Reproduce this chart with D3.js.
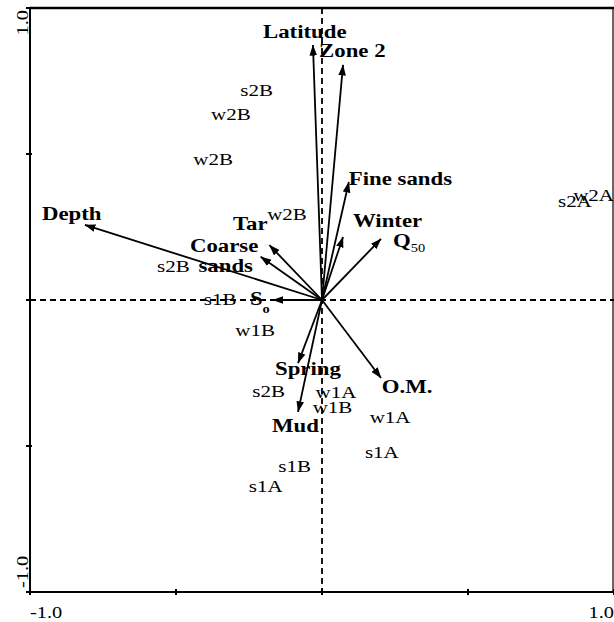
<!DOCTYPE html>
<html>
<head>
<meta charset="utf-8">
<script src="https://cdn.jsdelivr.net/npm/d3@7"></script>
<style>
  html, body { margin: 0; padding: 0; background: #fff; }
  svg { display: block; }
  text { font-family: "Liberation Serif", "Times New Roman", serif; fill: #000; }
</style>
</head>
<body>
<svg id="chart" width="614" height="622"></svg>
<script>
// ---- data ----
const axisTicks = [-1, -0.5, 0, 0.5, 1];
const tickLabels = ["-1.0", "1.0"];

// environmental variable arrows (tip coordinates)
const varNames = ["Latitude", "Zone 2", "Fine sands", "Winter", "Q50", "Depth", "Tar", "Coarse sands", "So", "Spring", "Mud", "O.M."];
const varX = [-0.031, 0.072, 0.092, 0.072, 0.202, -0.812, -0.180, -0.210, -0.168, -0.082, -0.082, 0.202];
const varY = [0.873, 0.805, 0.404, 0.216, 0.209, 0.257, 0.188, 0.148, 0.000, -0.216, -0.383, -0.267];
// label anchor positions (start, baseline) for each variable
const varLabelX = [-0.202, -0.010, 0.092, 0.106, 0.243, -0.959, -0.305, -0.452, -0.247, -0.161, -0.171, 0.205];
const varLabelY = [0.897, 0.832, 0.394, 0.250, 0.182, 0.274, 0.240, 0.164, -0.017, -0.257, -0.452, -0.318];

// samples (site scores)
const sampleNames = ["s2B", "w2B", "w2B", "w2B", "s2B", "s1B", "w1B", "s2B", "w1A", "w1B", "w1A", "s1A", "s1B", "s1A", "s2A", "w2A"];
const sampleX = [-0.224, -0.312, -0.373, -0.120, -0.509, -0.349, -0.229, -0.183, 0.048, 0.036, 0.233, 0.205, -0.094, -0.193, 0.866, 0.930];
const sampleY = [0.719, 0.637, 0.483, 0.295, 0.116, 0.003, -0.103, -0.312, -0.315, -0.366, -0.401, -0.521, -0.568, -0.637, 0.339, 0.360];

// ---- chart ----
const svg = d3.select("#chart");
const x = d3.scaleLinear().domain([-1, 1]).range([30, 614]);
const y = d3.scaleLinear().domain([-1, 1]).range([592, 8]);
const SX = 1.2; // horizontal stretch of the original typeface

// zero dashed lines
svg.append("line").attr("x1", x(-1)).attr("x2", x(1)).attr("y1", y(0)).attr("y2", y(0))
  .attr("stroke", "#000").attr("stroke-width", 1.8).attr("stroke-dasharray", "6,4");
svg.append("line").attr("x1", x(0)).attr("x2", x(0)).attr("y1", y(1)).attr("y2", y(-1))
  .attr("stroke", "#000").attr("stroke-width", 1.8).attr("stroke-dasharray", "6,4");

// frame
svg.append("line").attr("x1", x(-1)).attr("x2", x(1)).attr("y1", y(1)).attr("y2", y(1))
  .attr("stroke", "#000").attr("stroke-width", 2.4);
svg.append("line").attr("x1", x(1) - 1).attr("x2", x(1) - 1).attr("y1", y(1)).attr("y2", y(-1))
  .attr("stroke", "#000").attr("stroke-width", 1.2);
svg.append("line").attr("x1", x(-1)).attr("x2", x(1)).attr("y1", y(-1)).attr("y2", y(-1))
  .attr("stroke", "#000").attr("stroke-width", 2);
svg.append("line").attr("x1", x(-1)).attr("x2", x(-1)).attr("y1", y(1) - 1).attr("y2", y(-1) + 1)
  .attr("stroke", "#000").attr("stroke-width", 2);

// ticks
svg.selectAll(".xt").data(axisTicks).enter().append("line")
  .attr("x1", d => x(d)).attr("x2", d => x(d)).attr("y1", y(-1) - 3).attr("y2", y(-1) + 3)
  .attr("stroke", "#000").attr("stroke-width", 2);
svg.selectAll(".yt").data(axisTicks).enter().append("line")
  .attr("y1", d => y(d)).attr("y2", d => y(d)).attr("x1", x(-1) - 4).attr("x2", x(-1) + 2)
  .attr("stroke", "#000").attr("stroke-width", 2);

// tick labels
svg.append("text").attr("transform", `translate(${x(-1)},618) scale(${SX},1)`)
  .attr("font-size", 17).attr("text-anchor", "start").text(tickLabels[0]);
svg.append("text").attr("transform", `translate(${x(1)},618) scale(${SX},1)`)
  .attr("font-size", 17).attr("text-anchor", "end").text(tickLabels[1]);
svg.append("text").attr("transform", `translate(27.5,${y(1) + 2}) rotate(-90) scale(${SX},1)`)
  .attr("font-size", 17).attr("text-anchor", "end").text(tickLabels[1]);
svg.append("text").attr("transform", `translate(27.5,${y(-1) - 4}) rotate(-90) scale(${SX},1)`)
  .attr("font-size", 17).attr("text-anchor", "start").text(tickLabels[0]);

// arrow marker
svg.append("defs").append("marker")
  .attr("id", "ah").attr("markerUnits", "userSpaceOnUse")
  .attr("viewBox", "0 -4 11 8").attr("refX", 10.5).attr("refY", 0)
  .attr("markerWidth", 11).attr("markerHeight", 8).attr("orient", "auto")
  .append("path").attr("d", "M0,-3.8L11,0L0,3.8Z").attr("fill", "#000");

const vars = varNames.map((n, i) => ({ n, x: varX[i], y: varY[i], lx: varLabelX[i], ly: varLabelY[i] }));

svg.selectAll(".arrow").data(vars).enter().append("line")
  .attr("x1", x(0)).attr("y1", y(0))
  .attr("x2", d => x(d.x)).attr("y2", d => y(d.y))
  .attr("stroke", "#000").attr("stroke-width", 1.8)
  .attr("marker-end", "url(#ah)");

// variable labels (bold)
vars.forEach(d => {
  const t = svg.append("text")
    .attr("transform", `translate(${x(d.lx)},${y(d.ly)}) scale(${SX},1)`)
    .attr("font-size", 19).attr("font-weight", "bold");
  if (d.n === "Q50") {
    t.append("tspan").text("Q");
    t.append("tspan").attr("font-size", 12).attr("font-weight", "normal").attr("dy", 5).text("50");
  } else if (d.n === "So") {
    t.append("tspan").text("S");
    t.append("tspan").attr("font-size", 12).attr("dy", 8).text("o");
  } else if (d.n === "Coarse sands") {
    t.append("tspan").attr("x", 0).text("Coarse");
    t.append("tspan").attr("x", 8.5 / SX).attr("dy", 20).text("sands");
  } else {
    t.text(d.n);
  }
});

// sample labels
const samples = sampleNames.map((n, i) => ({ n, x: sampleX[i], y: sampleY[i] }));
svg.selectAll(".sample").data(samples).enter().append("text")
  .attr("transform", d => `translate(${x(d.x)},${y(d.y) + 6}) scale(${SX},1)`)
  .attr("font-size", 17.5).attr("text-anchor", "middle")
  .text(d => d.n);
</script>
</body>
</html>
